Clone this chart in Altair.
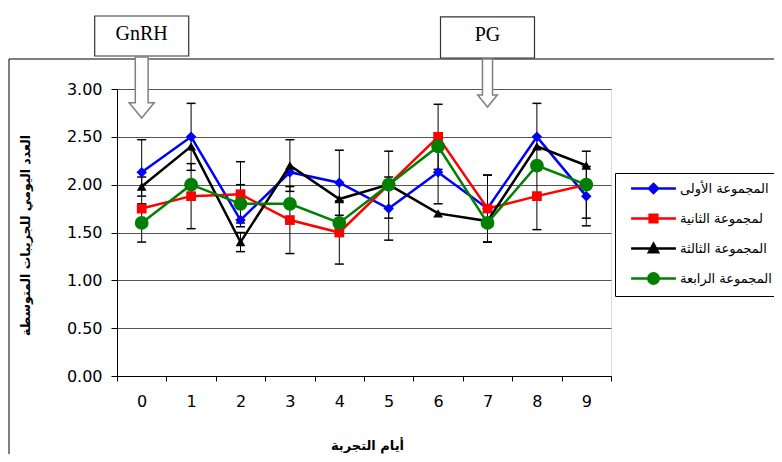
import altair as alt
import pandas as pd

# ---------------- data ----------------
days = ["0", "1", "2", "3", "4", "5", "6", "7", "8", "9"]
series_names = ["المجموعة الأولى", "لمجموعة الثانية", "المجموعة الثالثة", "المجموعة الرابعة"]
colors = ["#0000FF", "#FF0000", "#000000", "#008000"]

g1 = [2.13, 2.50, 1.63, 2.13, 2.02, 1.75, 2.13, 1.75, 2.50, 1.88]
g2 = [1.75, 1.88, 1.90, 1.63, 1.50, 2.00, 2.50, 1.75, 1.88, 2.00]
g3 = [1.98, 2.40, 1.40, 2.20, 1.85, 2.00, 1.70, 1.62, 2.40, 2.20]
g4 = [1.60, 2.00, 1.80, 1.80, 1.60, 2.00, 2.40, 1.60, 2.20, 2.00]

e1 = [0.34, 0.35, 0.00, 0.00, 0.34, 0.33, 0.33, 0.35, 0.35, 0.31]
e2 = [0.00, 0.34, 0.34, 0.35, 0.33, 0.00, 0.34, 0.35, 0.35, 0.00]
e3 = [0.10, 0.00, 0.10, 0.27, 0.00, 0.35, 0.00, 0.00, 0.00, 0.00]
e4 = [0.20, 0.00, 0.20, 0.00, 0.00, 0.00, 0.00, 0.00, 0.00, 0.35]

y_ticks = [0.0, 0.5, 1.0, 1.5, 2.0, 2.5, 3.0]
x_title = "أيام التجربة"
y_title = "العدد اليومي للجريبات المتوسطة"

# annotations (treatment markers)
ann_day = ["0", "7"]
ann_text = ["GnRH", "PG"]
ann_top = [3.763, 3.753]
ann_bottom = [3.345, 3.324]
ann_text_y = [3.575, 3.565]
ann_arrow_y = [3.016, 3.063]
ann_arrow_size = [3721, 2304]

point_shapes = ["diamond", "square", "triangle-up", "circle"]
point_sizes = [110, 95, 95, 190]

# legend symbols: line + marker (symbol box is 14 px, so 1 unit = 7 px)
legend_paths = [
    "M-3.2,0L3.2,0M0,-0.65L0.65,0L0,0.65L-0.65,0Z",
    "M-3.2,0L3.2,0M-0.55,-0.55L0.55,-0.55L0.55,0.55L-0.55,0.55Z",
    "M-3.2,0L3.2,0M0,-0.65L0.65,0.55L-0.65,0.55Z",
    "M-3.2,0L3.2,0M-0.75,0A0.75,0.75 0 1,0 0.75,0A0.75,0.75 0 1,0 -0.75,0Z",
]

arrow_path = "M-0.21,-1L0.21,-1L0.21,0.5L0.41,0.5L0,1L-0.41,0.5L-0.21,0.5Z"

rows = []
for s, vals, errs in zip(series_names, [g1, g2, g3, g4], [e1, e2, e3, e4]):
    for d, v, e in zip(days, vals, errs):
        rows.append({"day": d, "series": s, "value": v, "err": e,
                     "low": round(v - e, 3), "high": round(v + e, 3)})
df = pd.DataFrame(rows)

ann_df = pd.DataFrame({"day": ann_day, "label": ann_text, "top": ann_top,
                       "bottom": ann_bottom, "ty": ann_text_y,
                       "ay": ann_arrow_y, "asize": ann_arrow_size})
one_row = pd.DataFrame({"k": [0]})

# ---------------- shared encodings ----------------
ARABIC_FONT = "DejaVu Sans"
x_scale = alt.Scale(domain=days, paddingInner=0, paddingOuter=0)
x_axis = alt.Axis(title=x_title, labelAngle=0, tickBand="extent", tickSize=5,
                  labelPadding=12, grid=False, domainColor="black", tickColor="black",
                  labelFont="DejaVu Sans", labelFontSize=16, labelColor="black",
                  titleFont=ARABIC_FONT, titleFontSize=13, titleFontWeight="bold",
                  titleColor="black", titleX=250, titleY=69, titleBaseline="middle",
                  titleAnchor="middle")
y_scale = alt.Scale(domain=[0, 3], nice=False, zero=True)
y_axis = alt.Axis(title=y_title, values=y_ticks, format=".2f", grid=True,
                  gridColor="#555555", tickSize=6, labelPadding=9,
                  domainColor="black", tickColor="black",
                  labelFont="DejaVu Sans", labelFontSize=16, labelColor="black",
                  titleFont=ARABIC_FONT, titleFontSize=12.5, titleFontWeight="bold",
                  titleColor="black", titleX=-92, titleY=146, titleAlign="center",
                  titleBaseline="middle", titleAngle=270)


def X():
    return alt.X("day:N", scale=x_scale, axis=x_axis, sort=days)


def Y(field):
    return alt.Y(field, type="quantitative", scale=y_scale, axis=y_axis)


color_scale = alt.Scale(domain=series_names, range=colors)

legend_props = dict(title=None, orient="none", legendX=498, legendY=84, padding=7,
                    symbolOffset=23, rowPadding=10, labelOffset=18,
                    labelFont=ARABIC_FONT, labelFontSize=13, labelColor="black",
                    strokeColor="black", fillColor="white", symbolSize=196,
                    symbolStrokeWidth=2.5, symbolOpacity=1, labelLimit=300)

base = alt.Chart(df)

# error bars
err_base = base.transform_filter("datum.err > 0")
err_rule = err_base.mark_rule(color="black", strokeWidth=1).encode(
    x=X(), y=Y("low"), y2="high")
err_lo = err_base.mark_tick(color="black", thickness=1.5, size=9, opacity=1).encode(
    x=X(), y=Y("low"))
err_hi = err_base.mark_tick(color="black", thickness=1.5, size=9, opacity=1).encode(
    x=X(), y=Y("high"))

layers = [err_rule, err_lo, err_hi]

for s, shp, sz in zip(series_names, point_shapes, point_sizes):
    sub = base.transform_filter(alt.datum.series == s)
    line = sub.mark_line(strokeWidth=2.5).encode(
        x=X(), y=Y("value"),
        color=alt.Color("series:N", scale=color_scale))
    pts = sub.mark_point(filled=True, shape=shp, size=sz, opacity=1).encode(
        x=X(), y=Y("value"),
        color=alt.Color("series:N", scale=color_scale))
    layers += [line, pts]

# legend-only layer (no marks drawn)
legend_layer = base.transform_filter("false").mark_point(filled=True, opacity=1).encode(
    x=X(), y=Y("value"),
    color=alt.Color("series:N", scale=color_scale, legend=alt.Legend(**legend_props)),
    stroke=alt.Stroke("series:N", scale=alt.Scale(domain=series_names, range=colors),
                      legend=alt.Legend(**legend_props)),
    shape=alt.Shape("series:N", scale=alt.Scale(domain=series_names, range=legend_paths),
                    legend=alt.Legend(**legend_props)),
)
layers.insert(0, legend_layer)

# annotation boxes, texts and arrows
ann = alt.Chart(ann_df)
boxes = ann.mark_bar(size=94, fill="white", stroke="#333333", strokeWidth=1.2).encode(
    x=X(), y=Y("top"), y2="bottom")
texts = ann.mark_text(font="Liberation Serif", fontSize=20, color="black").encode(
    x=X(), y=Y("ty"), text="label:N")
arrows = ann.mark_point(shape=arrow_path, filled=True, fill="white", stroke="#808080",
                        strokeWidth=1.5, opacity=1).encode(
    x=X(), y=Y("ay"), size=alt.Size("asize:Q", scale=None))

# outer frame lines
frame = alt.Chart(one_row)
frame_top = frame.mark_rule(color="black", strokeWidth=1).encode(
    x=alt.value(-108), x2=alt.value(700), y=alt.value(-30))
frame_left = frame.mark_rule(color="black", strokeWidth=1).encode(
    x=alt.value(-108), y=alt.value(-30), y2=alt.value(400))

chart = alt.layer(*layers, frame_top, frame_left, boxes, texts, arrows).properties(
    width=494, height=287,
    autosize=alt.AutoSizeParams(type="none"),
    padding={"left": 109, "top": 81, "right": 163, "bottom": 78},
).configure_view(stroke="#808080", strokeWidth=1).configure(background="white")

chart.save("out.html", embed_options={"renderer": "svg", "actions": False})
